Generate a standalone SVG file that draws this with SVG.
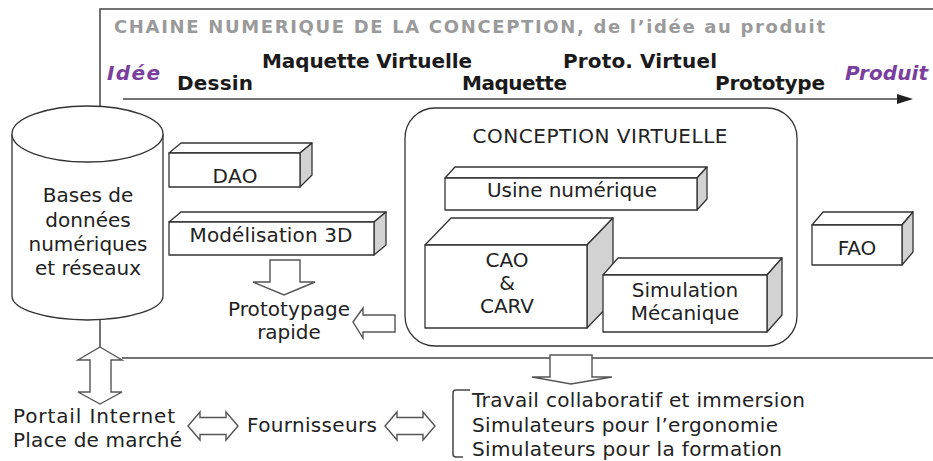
<svg xmlns="http://www.w3.org/2000/svg" width="933" height="461" viewBox="0 0 933 461">
<style>
text{font-family:"DejaVu Sans",Verdana,sans-serif;fill:#222}
.t{font-size:20px}
.b{font-size:20px;font-weight:bold;fill:#1a1a1a}
.p{font-size:20px;font-weight:bold;font-style:italic;fill:#7a3e9d}
.ttl{font-size:18px;font-weight:bold;fill:#9a9a9a}
.ln{stroke:#444;stroke-width:1.5;fill:none}
.f{fill:#fff;stroke:#333;stroke-width:1.3;stroke-linejoin:round}
.s{fill:#d2d2d2;stroke:#333;stroke-width:1.3;stroke-linejoin:round}
.ar{fill:#fff;stroke:#555;stroke-width:1.4;stroke-linejoin:miter}
</style>
<rect width="933" height="461" fill="#fff"/>

<g id="frame">
<path class="ln" d="M100,106 L100,9 L933,9"/>
<path class="ln" d="M122,358 L933,358"/>
<text class="ttl" x="114" y="33" textLength="711">CHAINE NUMERIQUE DE LA CONCEPTION, de l’idée au produit</text>
</g>

<g id="timeline">
<path class="ln" d="M123,99 L900,99"/>
<polygon points="897,94 913,99 897,104" fill="#222"/>
<text class="p" x="107" y="80" textLength="53">Idée</text>
<text class="b" x="177" y="90" textLength="76">Dessin</text>
<text class="b" x="262" y="68" textLength="210">Maquette Virtuelle</text>
<text class="b" x="462" y="90" textLength="105">Maquette</text>
<text class="b" x="563" y="68" textLength="154">Proto. Virtuel</text>
<text class="b" x="715" y="90" textLength="110">Prototype</text>
<text class="p" x="845" y="80" textLength="83">Produit</text>
</g>

<g id="bases">
<path class="f" d="M12,134 L12,296 A75.5,24 0 0 0 163,296 L163,134"/>
<ellipse class="f" cx="87.5" cy="134" rx="75.5" ry="28"/>
<text class="t" text-anchor="middle" x="88" y="202">Bases de</text>
<text class="t" text-anchor="middle" x="88" y="227">données</text>
<text class="t" text-anchor="middle" x="88" y="251">numériques</text>
<text class="t" text-anchor="middle" x="88" y="275">et réseaux</text>
</g>

<g id="dao">
<polygon class="f" points="169,153 181,143 312,143 300,153"/>
<polygon class="s" points="300,153 312,143 312,175 300,187"/>
<rect class="f" x="169" y="153" width="131" height="34"/>
<text class="t" text-anchor="middle" x="235" y="183" textLength="45">DAO</text>
</g>

<g id="modelisation">
<polygon class="f" points="169,222 181,212 386,212 374,222"/>
<polygon class="s" points="374,222 386,212 386,245 374,255"/>
<rect class="f" x="169" y="222" width="205" height="33"/>
<text class="t" text-anchor="middle" x="271" y="242" textLength="163">Modélisation 3D</text>
</g>

<g id="prototypage">
<text class="t" text-anchor="middle" x="289" y="316" textLength="122">Prototypage</text>
<text class="t" text-anchor="middle" x="289" y="339">rapide</text>
</g>

<g id="conception">
<rect class="f" x="405" y="108" width="392" height="238" rx="30" ry="30" stroke="#555"/>
<text class="t" text-anchor="middle" x="600" y="143" textLength="255">CONCEPTION VIRTUELLE</text>
</g>

<g id="usine">
<polygon class="f" points="445,178 455,167 707,167 697,178"/>
<polygon class="s" points="697,178 707,167 707,199 697,210"/>
<rect class="f" x="445" y="178" width="252" height="32"/>
<text class="t" text-anchor="middle" x="572" y="197" textLength="170">Usine numérique</text>
</g>

<g id="cao">
<polygon class="f" points="425,245 451,218 613,218 587,245"/>
<polygon class="s" points="587,245 613,218 613,301 587,328"/>
<rect class="f" x="425" y="245" width="162" height="83"/>
<text class="t" text-anchor="middle" x="507" y="267">CAO</text>
<text class="t" text-anchor="middle" x="507" y="290">&amp;</text>
<text class="t" text-anchor="middle" x="507" y="313">CARV</text>
</g>

<g id="simulation">
<polygon class="f" points="603,275 618,258 782,258 767,275"/>
<polygon class="s" points="767,275 782,258 782,315 767,332"/>
<rect class="f" x="603" y="275" width="164" height="57"/>
<text class="t" text-anchor="middle" x="685" y="297">Simulation</text>
<text class="t" text-anchor="middle" x="685" y="320">Mécanique</text>
</g>

<g id="fao">
<polygon class="f" points="812,225 823,212 913,212 902,225"/>
<polygon class="s" points="902,225 913,212 913,252 902,265"/>
<rect class="f" x="812" y="225" width="90" height="40"/>
<text class="t" text-anchor="middle" x="857" y="255">FAO</text>
</g>

<g id="portail">
<text class="t" x="13" y="423" textLength="162">Portail Internet</text>
<text class="t" x="13" y="447" textLength="169">Place de marché</text>
</g>

<g id="fournisseurs">
<text class="t" x="247" y="432" textLength="130">Fournisseurs</text>
</g>

<g id="applications">
<path class="ln" d="M470,390 L456,390 Q453,390 453,393 L453,454 Q453,457 456,457 L463,457" stroke="#555"/>
<text class="t" x="472" y="407" textLength="333">Travail collaboratif et immersion</text>
<text class="t" x="472" y="432" textLength="306">Simulateurs pour l’ergonomie</text>
<text class="t" x="472" y="456" textLength="310">Simulateurs pour la formation</text>
</g>

<g id="connectors">
<path class="ln" d="M100,320 L100,347"/>
<polygon class="ar" points="100,347 122,360 111,360 111,392 122,392 100,404 78,392 90,392 90,360 78,360"/>
<polygon class="ar" points="270,260 300,260 300,282 315,282 284,295 253,282 270,282"/>
<polygon class="ar" points="353,322 363,308 363,315 395,315 395,332 363,332 363,338"/>
<polygon class="ar" points="550,355 592,355 592,377 612,377 571,384 532,377 550,377"/>
<polygon class="ar" points="188,426 200,412 200,417.5 226,417.5 226,412 238,426 226,440 226,434.5 200,434.5 200,440"/>
<polygon class="ar" points="385,426 397,412 397,417.5 423,417.5 423,412 435,426 423,440 423,434.5 397,434.5 397,440"/>
</g>
</svg>
